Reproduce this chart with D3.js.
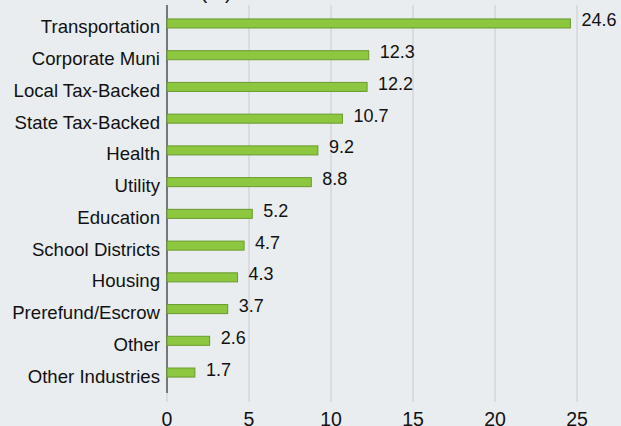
<!DOCTYPE html>
<html>
<head>
<meta charset="utf-8">
<script src="https://cdn.jsdelivr.net/npm/d3@7"></script>
<style>
  body { margin: 0; background: #e9edf0; }
  svg { display: block; font-family: "Liberation Sans", Arial, sans-serif; }
</style>
</head>
<body>
<svg width="621" height="426"></svg>
<script>
const sectors = ["Transportation", "Corporate Muni", "Local Tax-Backed", "State Tax-Backed", "Health", "Utility",
  "Education", "School Districts", "Housing", "Prerefund/Escrow", "Other", "Other Industries"]
const weights = [24.6, 12.3, 12.2, 10.7, 9.2, 8.8, 5.2, 4.7, 4.3, 3.7, 2.6, 1.7]
const xTicks = [0, 5, 10, 15, 20, 25]

let svg = d3.select('svg')
let width = +svg.attr('width')
let height = +svg.attr('height')

svg.append("rect").attr("width", width).attr("height", height).attr("fill", "#e9edf0")

const x = d3.scaleLinear().domain([0, 25]).range([167, 577])
const y = d3.scaleBand().domain(sectors).range([7.6, 388.4]).paddingInner(0.715).paddingOuter(0.357)

// title, mostly off the top of the frame
svg.append("text")
  .attr("x", 216).attr("y", -1.5)
  .attr("text-anchor", "middle")
  .style("font-size", "20px")
  .attr("fill", "#111")
  .text("(%)")

// grid
svg.append("g")
  .selectAll("line")
  .data(xTicks)
  .join("line")
  .attr("x1", d => x(d)).attr("x2", d => x(d))
  .attr("y1", 5).attr("y2", 402)
  .attr("stroke", "#c9ccce")
  .attr("stroke-width", 1)

// axis line
svg.append("line")
  .attr("x1", x(0)).attr("x2", x(0))
  .attr("y1", 5).attr("y2", 393)
  .attr("stroke", "#333")
  .attr("stroke-width", 1.2)

// bars
svg.append("g")
  .selectAll("rect")
  .data(weights)
  .join("rect")
  .attr("x", x(0))
  .attr("y", (d, i) => y(sectors[i]))
  .attr("width", d => x(d) - x(0))
  .attr("height", y.bandwidth())
  .attr("fill", "#8dc63f")
  .attr("stroke", "#6a9c2e")
  .attr("stroke-width", 1)

// value labels
svg.append("g")
  .selectAll("text")
  .data(weights)
  .join("text")
  .attr("x", d => x(d) + 11)
  .attr("y", (d, i) => y(sectors[i]) + y.bandwidth() / 2 + 3)
  .style("font-size", "18px")
  .attr("fill", "#111")
  .text(d => d.toFixed(1))

// category labels
svg.append("g")
  .selectAll("text")
  .data(sectors)
  .join("text")
  .attr("x", 160)
  .attr("y", d => y(d) + y.bandwidth() / 2 + 10)
  .attr("text-anchor", "end")
  .style("font-size", "18.6px")
  .attr("fill", "#111")
  .text(d => d)

// x tick labels
svg.append("g")
  .selectAll("text")
  .data(xTicks)
  .join("text")
  .attr("x", d => x(d))
  .attr("y", 426)
  .attr("text-anchor", "middle")
  .style("font-size", "19.5px")
  .attr("fill", "#111")
  .text(d => d)
</script>
</body>
</html>
